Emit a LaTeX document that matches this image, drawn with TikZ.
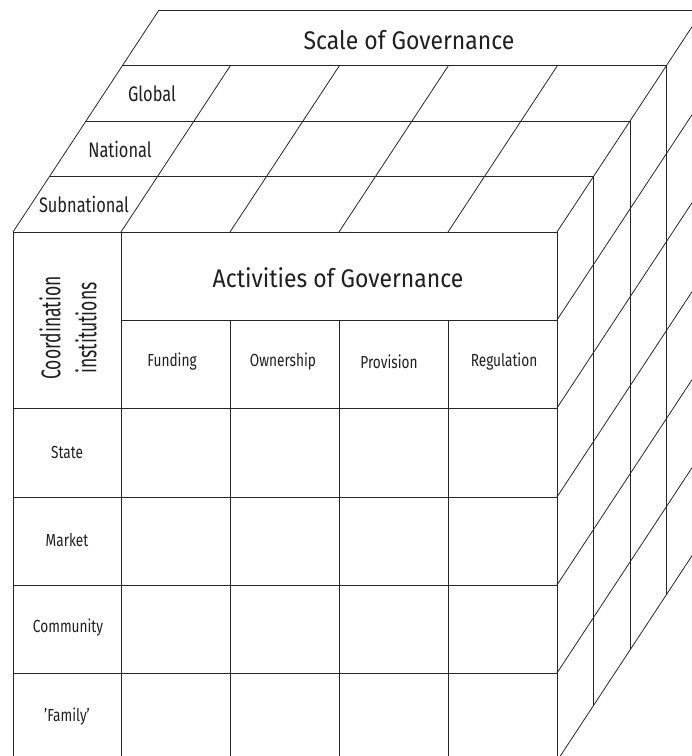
\documentclass[tikz,border=0pt]{standalone}
\usepackage{fontspec}
\setmainfont[FakeStretch=0.78]{Fira Sans}
\newfontfamily\widefont[FakeStretch=0.9]{Fira Sans}
\newfontfamily\narrowfont[FakeStretch=0.65]{Fira Sans}
\begin{document}
\begin{tikzpicture}[x=1pt,y=-1pt,
  grid/.style={line width=0.8pt, draw=black!85},
  lbl/.style={inner sep=0pt, text=black!88, anchor=center},
  big/.style={lbl, font=\widefont\fontsize{25.5}{30}\selectfont},
  mid/.style={lbl, font=\fontsize{21}{25}\selectfont},
  small/.style={lbl, font=\fontsize{17.5}{21}\selectfont}]
\useasboundingbox (0,0) rectangle (692,756);
\clip (0,0) rectangle (692,756);

% front face
\draw[grid] (13,232) rectangle (557,761);
\draw[grid] (121,232) -- (121,761);
\foreach \x in {230,339,448} \draw[grid] (\x,320) -- (\x,761);
\draw[grid] (121,320) -- (557,320);
\foreach \y in {408,497,585,673} \draw[grid] (13,\y) -- (557,\y);

% top face: depth layers and column lines
\foreach \k in {1,2,3,4}
  \draw[grid] ({13+36.5*\k},{232-55.5*\k}) -- ({557+36.5*\k},{232-55.5*\k});
\draw[grid] (13,232) -- (159,10);
\draw[grid] (557,232) -- (703,10);
\foreach \x in {121,230,339,448} \draw[grid] (\x,232) -- ++(109.5,-166.5);

% right face: depth verticals and row lines
\foreach \k in {1,2,3,4}
  \draw[grid] ({557+36.5*\k},{232-55.5*\k}) -- ({557+36.5*\k},{761-55.5*\k});
\foreach \y in {320,408,497,585,673,761} \draw[grid] (557,\y) -- ++(146,-222);

% labels on the top face
\node[big] (scale) at (409,40) {Scale of Governance};
\node[mid] (global) at (152,94) {Global};
\node[mid] (national) at (120,149) {National};
\node[mid] (subnational) at (84,204) {Subnational};

% labels on the front face
\node[big] (activities) at (338,278) {Activities of Governance};
\node[small] (funding) at (172,362) {Funding};
\node[small] (ownership) at (283,362) {Ownership};
\node[small] (provision) at (389,362) {Provision};
\node[small] (regulation) at (504,362) {Regulation};
\node[lbl, rotate=90, align=center, font=\narrowfont\fontsize{27}{36}\selectfont] (coord) at (68,328) {Coordination\\institutions};
\node[small] (state) at (67,452) {State};
\node[small] (market) at (67,540) {Market};
\node[small] (community) at (68,628) {Community};
\node[small] (family) at (67,717) {'Family'};
\end{tikzpicture}
\end{document}
